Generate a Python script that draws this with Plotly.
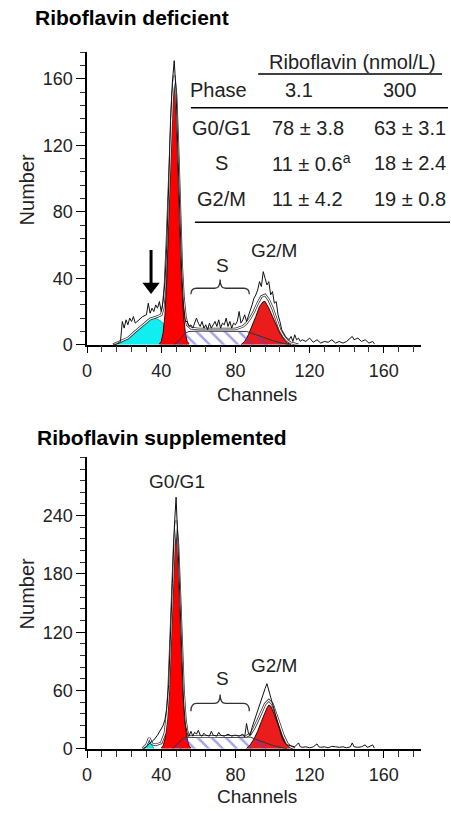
import plotly.graph_objects as go

W, H = 451, 820
FONT = "Liberation Sans, Arial, sans-serif"

# ---------------- Top panel: Riboflavin deficient ----------------
raw_top_ch = [14,16,18,19,20,21,22,23,24,25,
              26,28,30,32,33,34,35,36,37,38,
              39,40,41,42,43,44,45,46,47,48,
              49,50,51,52,53,54,55,56,57,58,
              59,60,61,62,63,64,65,66,67,68,
              69,70,71,72,73,74,75,76,77,78,
              79,80,81,82,83,84,85,86,87,88,
              89,90,91,92,93,94,95,96,97,98,
              99,100,101,102,103,104,105,106,107,108,
              109,110,111,112,113,114,115,116,118,120,
              122,124,126,128,130,132,134,136,138,140,
              142,143,144,146,148,150,152,154,155]
raw_top_n = [0,0.5,2,14,10,15,12,16,14,17,
             13,15,17,18,25,19,22,20,24,22,
             26,20,26,38,60,95,135,158,171,152,
             118,78,45,24,14,14,11,12,10,13,
             16,13,11,14,10,12,9,13,10,12,
             14,11,15,10,13,12,16,11,14,10,
             13,12,14,20,13,15,18,14,17,20,
             24,28,30,33,38,35,44,40,36,38,
             30,32,25,26,18,14,9,7,5,4,
             3,5,2,6,3,4,2,3,2,4,
             1.5,3,1,2,1.5,3,1,2,1,2,
             4,5,3,4,2,3,1,2,0.5]

fit_top_ch = [14,18,22,26,30,34,38,40,41,42,
              43,44,45,46,47,48,49,50,51,52,
              53,54,56,60,70,80,84,86,88,90,
              92,94,96,98,100,102,104,106,108,110,114]
fit_top_n = [0,2,4,8,12,15.5,17,18,22,35,
             60,88,122,148,162,150,120,82,48,28,
             17,12,10,9.5,9.5,9.5,11,13,16,20,
             25,29,30,27,22,15,9,5,2.5,1,0]

g1_top_ch = [39,40,41,42,43,44,45,46,47,48,49,50,51,52,53,54,55]
g1_top_n = [0.6,2,7,18,40,73,113,147,160,147,113,73,40,18,7,2,0.6]

apo_top_ch = [14,18,20,22,24,26,28,30,32,34,36,38,40,42,44,46,48,50,52,54]
apo_top_n = [0,1,2.5,4,5.5,7.5,9.5,11.5,13.5,15,16,15.5,14,12,9.5,7,4.5,2.5,1,0]

s_top_ch = [47,50,53,55,60,70,80,86,90,95,100,105,109]
s_top_n = [0,3,7,8,8.2,8.2,8.2,8,6.5,4.5,2.5,1,0]

g2_top_ch = [83,85,87,89,91,93,95,96,98,100,102,104,106,108,110]
g2_top_n = [0,2,6,11,17,23,26,26,22,17,12,7,3.5,1,0]

peak_marks_top = [47.5, 95.5]
arrow_top_ch = 34.5
arrow_top_from, arrow_top_to = 57, 31

# ---------------- Bottom panel: Riboflavin supplemented ----------------
raw_bot_ch = [30,32,34,36,38,40,41,42,43,44,
              45,46,47,48,49,50,51,52,53,54,
              55,56,57,58,59,60,61,62,63,64,
              66,67,68,70,71,72,74,76,78,80,
              82,84,85,86,87,88,89,90,91,92,
              93,94,95,96,97,98,99,100,101,102,
              103,104,105,106,107,108,110,112,114,115,
              116,118,120,122,124,125,126,128,130,132,
              134,136,138,140,142,143,144,146,148,150,
              151,152,154,155]
raw_bot_n = [0,2,6,9,14,20,24,30,42,66,
             110,170,226,259,212,150,95,50,25,16,
             13,18,13,17,15,19,14,13,16,14,
             13,18,14,13,17,14,13,15,13,14,
             13,15,12,26,16,14,22,28,33,40,
             46,52,56,62,67,60,52,46,40,32,
             24,17,12,8,5,4,3,2,6,2,
             1.5,2,1,2,5,2,1.5,2,1,2.5,
             2,1.5,2,1,2,6,2,1.5,2,4,
             1.5,2,4,0.5]

fit_bot_ch = [30,32,33.5,35,37,40,42,43,44,45,
              46,47,48,49,50,51,52,53,54,55,
              60,70,80,86,88,90,92,94,96,98,
              100,102,104,106,108,110,112]
fit_bot_n = [0,4,11,5,4,6,16,32,60,108,
             162,210,235,210,162,108,60,30,17,13,
             12.5,12.5,12.5,13,15,21,29,38,46,50,
             46,35,23,13,5,1.5,0]

g1_bot_ch = [40,41,42,43,44,45,46,47,48,49,50,51,52,53,54,55,56]
g1_bot_n = [1,3,10,26,56,103,159,206,225,206,159,103,56,26,10,3,1]

apo_bot_ch = [31,32,33.5,35,36]
apo_bot_n = [0,4,11,4,0]

s_bot_ch = [46,49,52,54,60,70,80,88,92,96,100,104,108]
s_bot_n = [0,5,11,12,12,12,12,12,9,6,3.5,1.5,0]

g2_bot_ch = [86,88,90,92,94,96,97,98,99,100,102,104,106,108,110,111]
g2_bot_n = [0.5,4,10,18,28,38,42,45,44,40,30,19,10,4,1,0]

peak_marks_bot = [48, 98]

# ---------------- Table ----------------
table_phases = ["G0/G1", "S", "G2/M"]
table_low = ["78 ± 3.8", "11 ± 0.6<sup>a</sup>", "11 ± 4.2"]
table_high = ["63 ± 3.1", "18 ± 2.4", "19 ± 0.8"]
table_cols = ["3.1", "300"]

x_ticks = [0, 40, 80, 120, 160]
y_ticks_top = [0, 40, 80, 120, 160]
y_ticks_bot = [0, 60, 120, 180, 240]


def px(x):
    return x / W


def py(y):
    return 1 - y / H


fig = go.Figure()

RED1 = "#ff0000"
RED2 = "#ea1c1c"
CYAN = "#10eef0"
HATCH = "#4646d8"


def add_panel(xa, ya, raw_ch, raw_n, fit_ch, fit_n, g1_ch, g1_n, apo_ch, apo_n,
              s_ch, s_n, g2_ch, g2_n, marks, mark_y):
    kw = dict(xaxis=xa, yaxis=ya, showlegend=False, hoverinfo="skip")
    fig.add_trace(go.Scatter(x=apo_ch, y=apo_n, mode="lines", fill="tozeroy",
                             fillcolor=CYAN, line=dict(color="#0a8f92", width=0.8), **kw))
    fig.add_trace(go.Scatter(x=g1_ch, y=g1_n, mode="lines", fill="tozeroy",
                             fillcolor=RED1, line=dict(color="#3a0000", width=1), **kw))
    fig.add_trace(go.Scatter(x=g2_ch, y=g2_n, mode="lines", fill="tozeroy",
                             fillcolor=RED2, line=dict(color="#3a0000", width=1), **kw))
    fig.add_trace(go.Scatter(x=s_ch, y=s_n, mode="lines", fill="tozeroy",
                             fillcolor="rgba(0,0,0,0)",
                             fillpattern=dict(shape="\\", fgcolor=HATCH,
                                              bgcolor="rgba(0,0,0,0)", size=10, solidity=0.25),
                             line=dict(color="#333333", width=1), **kw))
    fig.add_trace(go.Scatter(x=fit_ch, y=fit_n, mode="lines",
                             line=dict(color="#333333", width=2.6), **kw))
    fig.add_trace(go.Scatter(x=fit_ch, y=fit_n, mode="lines",
                             line=dict(color="white", width=1.1), **kw))
    fig.add_trace(go.Scatter(x=raw_ch, y=raw_n, mode="lines",
                             line=dict(color="#111111", width=1), **kw))
    fig.add_trace(go.Scatter(x=marks, y=[mark_y] * len(marks), mode="markers",
                             marker=dict(symbol="triangle-up", size=11, color="black"),
                             cliponaxis=False, **kw))


add_panel("x", "y", raw_top_ch, raw_top_n, fit_top_ch, fit_top_n, g1_top_ch, g1_top_n,
          apo_top_ch, apo_top_n, s_top_ch, s_top_n, g2_top_ch, g2_top_n, peak_marks_top, -3.6)
add_panel("x2", "y2", raw_bot_ch, raw_bot_n, fit_bot_ch, fit_bot_n, g1_bot_ch, g1_bot_n,
          apo_bot_ch, apo_bot_n, s_bot_ch, s_bot_n, g2_bot_ch, g2_bot_n, peak_marks_bot, -4)

# down arrow marking the sub-G1 population (shaft + head)
fig.add_trace(go.Scatter(x=[arrow_top_ch, arrow_top_ch], y=[arrow_top_from, arrow_top_to + 6],
                         mode="lines", line=dict(color="black", width=3),
                         showlegend=False, hoverinfo="skip", xaxis="x", yaxis="y"))
fig.add_trace(go.Scatter(x=[arrow_top_ch], y=[arrow_top_to + 4], mode="markers",
                         marker=dict(symbol="triangle-down", size=15, color="black"),
                         showlegend=False, hoverinfo="skip", xaxis="x", yaxis="y"))

tickfont = dict(family=FONT, size=18, color="#222222")
xcommon = dict(range=[0, 180], tickvals=x_ticks, showline=True, linecolor="black", linewidth=1.5,
               ticks="outside", ticklen=7, tickwidth=1.3, tickcolor="black",
               minor=dict(dtick=8, tick0=0, ticks="outside", ticklen=6, tickwidth=1.1, tickcolor="#333"),
               showgrid=False, zeroline=False, tickfont=tickfont, ticklabelstandoff=2)
ycommon = dict(showline=True, linecolor="black", linewidth=1.5,
               ticks="outside", ticklen=9, tickwidth=1.3, tickcolor="black",
               showgrid=False, zeroline=False, tickfont=tickfont)

fig.update_layout(
    width=W, height=H, margin=dict(l=0, r=0, t=0, b=0),
    paper_bgcolor="white", plot_bgcolor="white",
    font=dict(family=FONT, size=18, color="#222222"),
    xaxis=dict(domain=[px(83), px(420.5)], anchor="y", **xcommon),
    yaxis=dict(domain=[py(349), py(53)], anchor="x", range=[0, 176], tickvals=y_ticks_top,
               minor=dict(dtick=8, tick0=0, ticks="outside", ticklen=5, tickwidth=1.1, tickcolor="#333"),
               **ycommon),
    xaxis2=dict(domain=[px(83), px(420.5)], anchor="y2", **xcommon),
    yaxis2=dict(domain=[py(758), py(463)], anchor="x2", range=[0, 300], tickvals=y_ticks_bot,
                minor=dict(dtick=12, tick0=0, ticks="outside", ticklen=5, tickwidth=1.1, tickcolor="#333"),
                **ycommon),
)

ann = []


def text(x, y, s, size=19, xanchor="center", bold=False, xref="paper", yref="paper", angle=0):
    ann.append(dict(x=x, y=y, xref=xref, yref=yref, text=("<b>%s</b>" % s) if bold else s,
                    showarrow=False, xanchor=xanchor, yanchor="middle", textangle=angle,
                    borderpad=0,
                    font=dict(family=FONT, size=size, color="black" if bold else "#222222")))


# panel titles
text(px(29), py(18), "Riboflavin deficient", size=21, xanchor="left", bold=True)
text(px(31), py(443), "Riboflavin supplemented", size=21, xanchor="left", bold=True)
# axis titles
text(px(22), py(192), "Number", size=20, angle=-90)
text(px(22), py(601), "Number", size=20, angle=-90)
text(px(255), py(399), "Channels", size=19)
text(px(255), py(806), "Channels", size=19)

# phase labels
text(46.7, 180, "G0/G1", xref="x", yref="y")
text(73, 48, "S", xref="x", yref="y")
text(101, 57, "G2/M", xref="x", yref="y")
text(48.3, 275, "G0/G1", xref="x2", yref="y2")
text(73, 72, "S", xref="x2", yref="y2")
text(101, 86, "G2/M", xref="x2", yref="y2")

# table
text(px(351), py(63), "Riboflavin (nmol/L)", size=20)
text(px(216), py(91), "Phase", size=20)
text(px(297), py(91), table_cols[0], size=20)
text(px(399), py(91), table_cols[1], size=20)
row_y = [130, 165, 201]
for i in range(3):
    text(px(219), py(row_y[i]), table_phases[i], size=20)
    text(px(306 if i != 1 else 310), py(row_y[i]), table_low[i], size=20)
    text(px(410), py(row_y[i]), table_high[i], size=20)

fig.update_layout(annotations=ann)

shapes = []
for (x0, x1, y) in [(256, 442, 75), (188, 448, 109), (192, 450, 225)]:
    shapes.append(dict(type="line", xref="paper", yref="paper", x0=px(x0), x1=px(x1),
                       y0=py(y), y1=py(y), line=dict(color="black", width=1.5)))


def brace(xref, yref, x0, x1, yb, yh, yt):
    xm = (x0 + x1) / 2
    d = 3
    path = (f"M {x0},{yb} Q {x0},{yh} {x0+d},{yh} L {xm-d},{yh} Q {xm},{yh} {xm},{yt} "
            f"Q {xm},{yh} {xm+d},{yh} L {x1-d},{yh} Q {x1},{yh} {x1},{yb}")
    return dict(type="path", xref=xref, yref=yref, path=path,
                line=dict(color="#333333", width=1.3))


shapes.append(brace("x", "y", 56, 87.5, 30.4, 34, 39.3))
shapes.append(brace("x2", "y2", 56, 87.5, 38.6, 46.7, 55.8))
fig.update_layout(shapes=shapes)

post = ("var d=document.querySelector('.plotly-graph-div');"
        "d.style.position='fixed';d.style.top='0px';d.style.left='0px';"
        "document.body.style.margin='0px';document.body.style.overflow='hidden';"
        "document.documentElement.style.overflow='hidden';")
fig.write_html("out.html", config=dict(displayModeBar=False), post_script=post)
